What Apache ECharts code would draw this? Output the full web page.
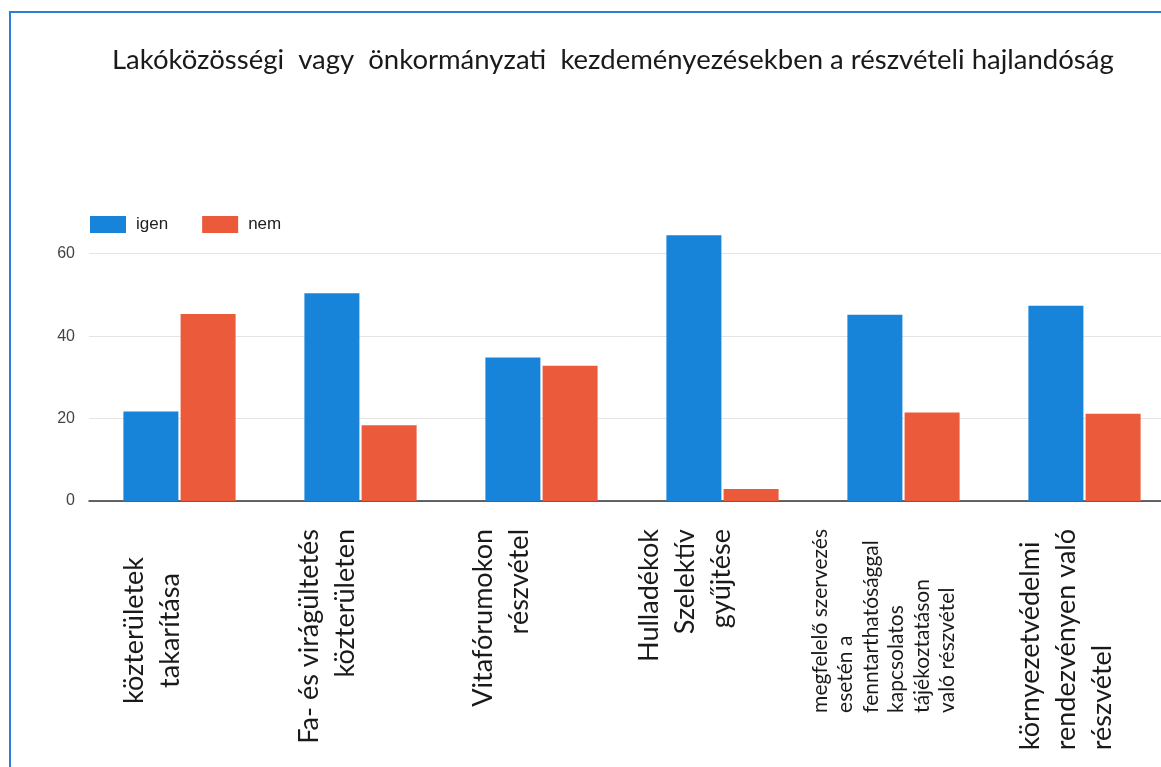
<!DOCTYPE html>
<html>
<head>
<meta charset="utf-8">
<script src="https://cdn.jsdelivr.net/npm/echarts@6/dist/echarts.min.js"></script>
<style>
html,body{margin:0;padding:0;background:#fff;}
#chart{width:1161px;height:767px;}
</style>
</head>
<body>
<div id="chart"></div>
<script>
var titleText = 'Lakóközösségi  vagy  önkormányzati  kezdeményezésekben a részvételi hajlandóság';
var categories = [
  'közterületek\ntakarítása',
  'Fa- és virágültetés\nközterületen',
  'Vitafórumokon\nrészvétel',
  'Hulladékok\nSzelektív\ngyűjtése',
  'megfelelő szervezés\nesetén a\nfenntarthatósággal\nkapcsolatos\ntájékoztatáson\nvaló részvétel',
  'környezetvédelmi\nrendezvényen való\nrészvétel'
];
var seriesNames = ['igen', 'nem'];
var igenValues = [21.7, 50.4, 34.8, 64.5, 45.2, 47.4];
var nemValues = [45.4, 18.4, 32.8, 2.9, 21.5, 21.2];
var yTicks = [0, 20, 40, 60];

// label styling (not data): alignment style and leftward shift per category
var labelStyleByIndex = ['c', 'r', 'r', 'r', 's', 'l'];
var labelShiftByIndex = [27, 33, 40, 37, 20, 18];

var chart = echarts.init(document.getElementById('chart'), null, {renderer: 'canvas'});
var bigFont = {fontFamily: 'Lato', fontSize: 27, lineHeight: 36, color: '#1a1a1a'};
var rich = {
  c: Object.assign({}, bigFont, {align: 'center', padding: [0, 28, 0, 0]}),
  r: Object.assign({}, bigFont, {align: 'right'}),
  l: Object.assign({}, bigFont, {align: 'left'}),
  s: {fontFamily: 'Lato', fontSize: 21, lineHeight: 25.5, color: '#1a1a1a', align: 'left'}
};
labelShiftByIndex.forEach(function (s, i) {
  rich['g' + i] = {fontSize: 1, lineHeight: 2 * s, align: 'left'};
});
chart.setOption({
  animation: false,
  backgroundColor: '#ffffff',
  title: {
    text: titleText,
    left: 112,
    top: 46,
    padding: 0,
    textStyle: {fontFamily: 'Lato', fontSize: 27.5, fontWeight: 'normal', color: '#1a1a1a'}
  },
  legend: {
    data: seriesNames,
    left: 90,
    top: 216,
    padding: 0,
    itemWidth: 36,
    itemHeight: 17,
    itemGap: 34,
    icon: 'rect',
    textStyle: {fontFamily: 'Liberation Sans', fontSize: 17, color: '#222', padding: [0, 0, 0, 5]}
  },
  graphic: [{
    type: 'rect',
    silent: true,
    shape: {x: 10, y: 12, width: 1200, height: 800},
    style: {fill: 'none', stroke: '#2b7fd4', lineWidth: 2}
  }],
  grid: {left: 89, width: 1086, top: 229, bottom: 266, containLabel: false, outerBoundsMode: 'none'},
  xAxis: {
    type: 'category',
    data: categories,
    axisLine: {show: true, lineStyle: {color: '#333', width: 1.5}},
    axisTick: {show: false},
    axisLabel: {
      interval: 0,
      rotate: 90,
      margin: 28,
      hideOverlap: false,
      formatter: function (value, idx) {
        var st = labelStyleByIndex[idx];
        return value.split('\n').map(function (l) { return '{' + st + '|' + l + '}'; }).join('\n') +
          '\n{g' + idx + '| }';
      },
      rich: rich
    }
  },
  yAxis: {
    type: 'value',
    min: yTicks[0],
    max: 66,
    interval: yTicks[1] - yTicks[0],
    axisLine: {show: false},
    axisTick: {show: false},
    axisLabel: {
      margin: 14,
      showMaxLabel: false,
      fontFamily: 'Liberation Sans',
      fontSize: 16,
      color: '#444'
    },
    splitLine: {show: true, showMaxLine: false, lineStyle: {color: '#e4e4e4', width: 1}}
  },
  series: [
    {name: seriesNames[0], type: 'bar', data: igenValues, barWidth: 55, barGap: '4%', itemStyle: {color: '#1784d9'}},
    {name: seriesNames[1], type: 'bar', data: nemValues, barWidth: 55, itemStyle: {color: '#eb5a3b'}}
  ]
});
</script>
</body>
</html>
